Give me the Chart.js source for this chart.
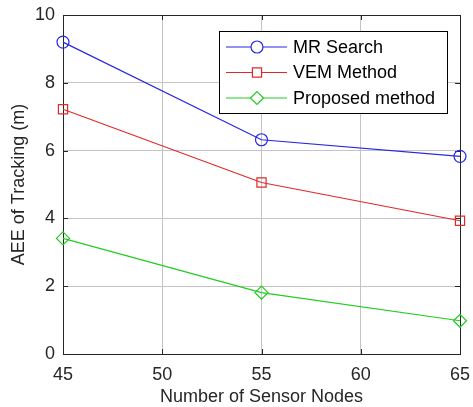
<!DOCTYPE html>
<html>
<head>
<meta charset="utf-8">
<script src="https://cdn.jsdelivr.net/npm/chart.js@4.4.1/dist/chart.umd.min.js"></script>
<style>
  html, body { margin: 0; padding: 0; background: #fff; }
  #wrap { width: 473px; height: 407px; }
</style>
</head>
<body>
<div id="wrap"><canvas id="chart" width="473" height="407"></canvas></div>
<script>
const nodes = [45, 55, 65];
const mrSearch = [9.2, 6.32, 5.83];
const vemMethod = [7.22, 5.06, 3.93];
const proposed = [3.41, 1.81, 0.98];

const FONT = '"Liberation Sans", Arial, Helvetica, sans-serif';

function points(ys) {
  return nodes.map((x, i) => ({ x, y: ys[i] }));
}

function series(label, ys, color, style, radius) {
  return {
    label,
    data: points(ys),
    borderColor: color,
    backgroundColor: 'rgba(0,0,0,0)',
    borderWidth: 1.2,
    pointStyle: style,
    pointRadius: radius,
    pointHoverRadius: radius,
    pointBorderWidth: 1.2,
    pointBackgroundColor: 'rgba(0,0,0,0)',
    pointBorderColor: color,
    tension: 0,
    clip: false
  };
}

// matlab style box with inward ticks
const boxPlugin = {
  id: 'box',
  beforeDatasetsDraw(chart) {
    const { ctx, chartArea: a, scales } = chart;
    ctx.save();
    ctx.strokeStyle = '#262626';
    ctx.lineWidth = 1;
    ctx.strokeRect(Math.round(a.left) + 0.5, Math.round(a.top) + 0.5,
      Math.round(a.right - a.left), Math.round(a.bottom - a.top));
    const len = 5;
    ctx.beginPath();
    scales.x.ticks.forEach(t => {
      const px = Math.round(scales.x.getPixelForValue(t.value)) + 0.5;
      ctx.moveTo(px, a.bottom); ctx.lineTo(px, a.bottom - len);
      ctx.moveTo(px, a.top); ctx.lineTo(px, a.top + len);
    });
    scales.y.ticks.forEach(t => {
      const py = Math.round(scales.y.getPixelForValue(t.value)) + 0.5;
      ctx.moveTo(a.left, py); ctx.lineTo(a.left + len, py);
      ctx.moveTo(a.right, py); ctx.lineTo(a.right - len, py);
    });
    ctx.stroke();
    ctx.restore();
  }
};

const legendPlugin = {
  id: 'boxLegend',
  afterDraw(chart) {
    const { ctx, chartArea: a } = chart;
    const x0 = a.right - 241, y0 = a.top + 16, w = 228, h = 82;
    ctx.save();
    ctx.fillStyle = '#fff';
    ctx.fillRect(x0, y0, w, h);
    ctx.strokeStyle = '#000';
    ctx.lineWidth = 1;
    ctx.strokeRect(Math.round(x0) + 0.5, Math.round(y0) + 0.5, w, h);
    ctx.font = '18px ' + FONT;
    ctx.textBaseline = 'middle';
    chart.data.datasets.forEach((ds, i) => {
      const cy = y0 + 16 + i * 25.5;
      ctx.strokeStyle = ds.borderColor;
      ctx.lineWidth = 1.2;
      ctx.beginPath();
      ctx.moveTo(x0 + 7, cy); ctx.lineTo(x0 + 68, cy);
      ctx.stroke();
      ctx.fillStyle = '#fff';
      Chart.helpers.drawPoint(ctx, {
        pointStyle: ds.pointStyle, radius: ds.pointRadius, rotation: 0, borderWidth: 1.2
      }, x0 + 38, cy);
      ctx.fillStyle = '#000';
      ctx.fillText(ds.label, x0 + 74, cy + 1);
    });
    ctx.restore();
  }
};

new Chart(document.getElementById('chart'), {
  type: 'line',
  data: {
    datasets: [
      series('MR Search', mrSearch, '#2626e6', 'circle', 6),
      series('VEM Method', vemMethod, '#e02a2a', 'rect', 6.5),
      series('Proposed method', proposed, '#22cc22', 'rectRot', 6.5)
    ]
  },
  options: {
    responsive: false,
    animation: false,
    layout: { padding: { left: 0, right: 13, top: 15, bottom: 0 } },
    plugins: { legend: { display: false }, tooltip: { enabled: false } },
    scales: {
      x: {
        type: 'linear',
        min: 45, max: 65,
        afterFit(s) { s.height = 53; s.paddingLeft = 0; s.paddingRight = 0; },
        ticks: { stepSize: 5, padding: 10, color: '#262626', font: { family: FONT, size: 18 } },
        grid: { color: '#c4c4c4', drawTicks: false },
        border: { display: false },
        title: { display: true, text: 'Number of Sensor Nodes', color: '#262626',
          font: { family: FONT, size: 18 }, padding: { top: 0, bottom: -1 } }
      },
      y: {
        min: 0, max: 10,
        afterFit(s) { s.width = 63; s.paddingTop = 0; s.paddingBottom = 0; },
        ticks: { stepSize: 2, padding: 8, color: '#262626', font: { family: FONT, size: 18 } },
        grid: { color: '#c4c4c4', drawTicks: false },
        border: { display: false },
        title: { display: true, text: 'AEE of Tracking (m)', color: '#262626',
          font: { family: FONT, size: 18 }, padding: { top: 8, bottom: 0 } }
      }
    }
  },
  plugins: [boxPlugin, legendPlugin]
});
</script>
</body>
</html>
